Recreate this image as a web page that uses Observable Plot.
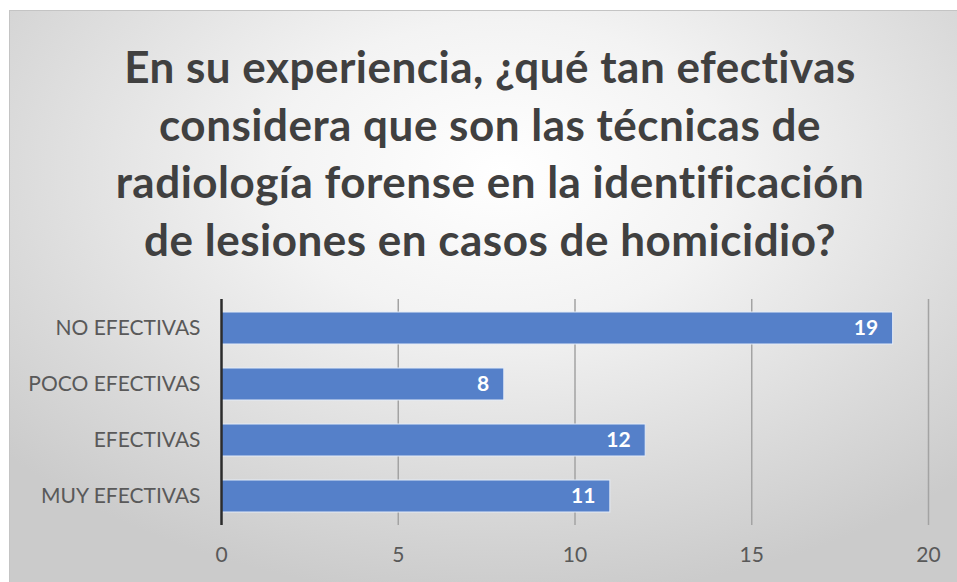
<!DOCTYPE html>
<html>
<head>
<meta charset="utf-8">
<script src="https://cdn.jsdelivr.net/npm/d3@7"></script>
<script src="https://cdn.jsdelivr.net/npm/@observablehq/plot@0.6"></script>
<style>
  html, body { margin: 0; padding: 0; background: #ffffff; }
  #page { position: relative; width: 957px; height: 582px; overflow: hidden; background: #ffffff; }
  #frame {
    position: absolute; left: 9px; top: 10px; width: 948px; height: 572px;
    background: radial-gradient(ellipse 70% 75% at 52% 28%, #ffffff 0%, #f3f3f3 35%, #dadada 75%, #cbcbcb 100%);
    border-top: 1px solid #c4c4c4; border-left: 1px solid #c4c4c4;
    box-sizing: border-box;
  }
  .tline {
    position: absolute; left: 0; width: 980px; text-align: center;
    font-family: Lato, "Open Sans", sans-serif; font-weight: 700;
    font-size: 44px; line-height: 58px; color: #404040; white-space: nowrap;
    letter-spacing: 0.5px;
  }
  #chart { position: absolute; left: 0; top: 280px; }
</style>
</head>
<body>
<div id="page">
  <div id="frame"></div>
  <div id="title"></div>
  <div id="chart"></div>
</div>
<script>
const titleLines = [
  "En su experiencia, ¿qué tan efectivas",
  "considera que son las técnicas de",
  "radiología forense en la identificación",
  "de lesiones en casos de homicidio?"
];
const categories = ["NO EFECTIVAS", "POCO EFECTIVAS", "EFECTIVAS", "MUY EFECTIVAS"];
const values = [19, 8, 12, 11];
const xTicks = [0, 5, 10, 15, 20];
const gridTicks = [5, 10, 15, 20];

const data = categories.map((c, i) => ({category: c, value: values[i]}));

const titleDiv = document.getElementById("title");
titleLines.forEach((t, i) => {
  const d = document.createElement("div");
  d.className = "tline";
  d.style.top = (37 + i * 57.5) + "px";
  d.textContent = t;
  titleDiv.appendChild(d);
});

const plot = Plot.plot({
  width: 957,
  height: 302,
  marginLeft: 221,
  marginRight: 29,
  marginTop: 19,
  marginBottom: 57,
  style: {background: "transparent", fontFamily: "Lato, 'Open Sans', sans-serif", fontSize: "21px", color: "#595959"},
  x: {domain: [0, 20], ticks: xTicks, label: null, tickSize: 0, tickPadding: 22},
  y: {domain: categories, label: null, tickSize: 0, tickPadding: 21, paddingInner: 0.42, paddingOuter: 0.2},
  marks: [
    Plot.ruleX(gridTicks, {stroke: "#a3a3a3", strokeWidth: 1.5}),
    Plot.barX(data, {x: "value", y: "category", fill: "#5580c9", stroke: "#e4ebf7", strokeWidth: 1}),
    Plot.text(data, {x: "value", y: "category", text: d => String(d.value), textAnchor: "end", dx: -15, fill: "#ffffff", fontWeight: 700, fontSize: 21}),
    Plot.ruleX([0], {stroke: "#2b2b2b", strokeWidth: 2.5})
  ]
});
document.getElementById("chart").appendChild(plot);
</script>
</body>
</html>
